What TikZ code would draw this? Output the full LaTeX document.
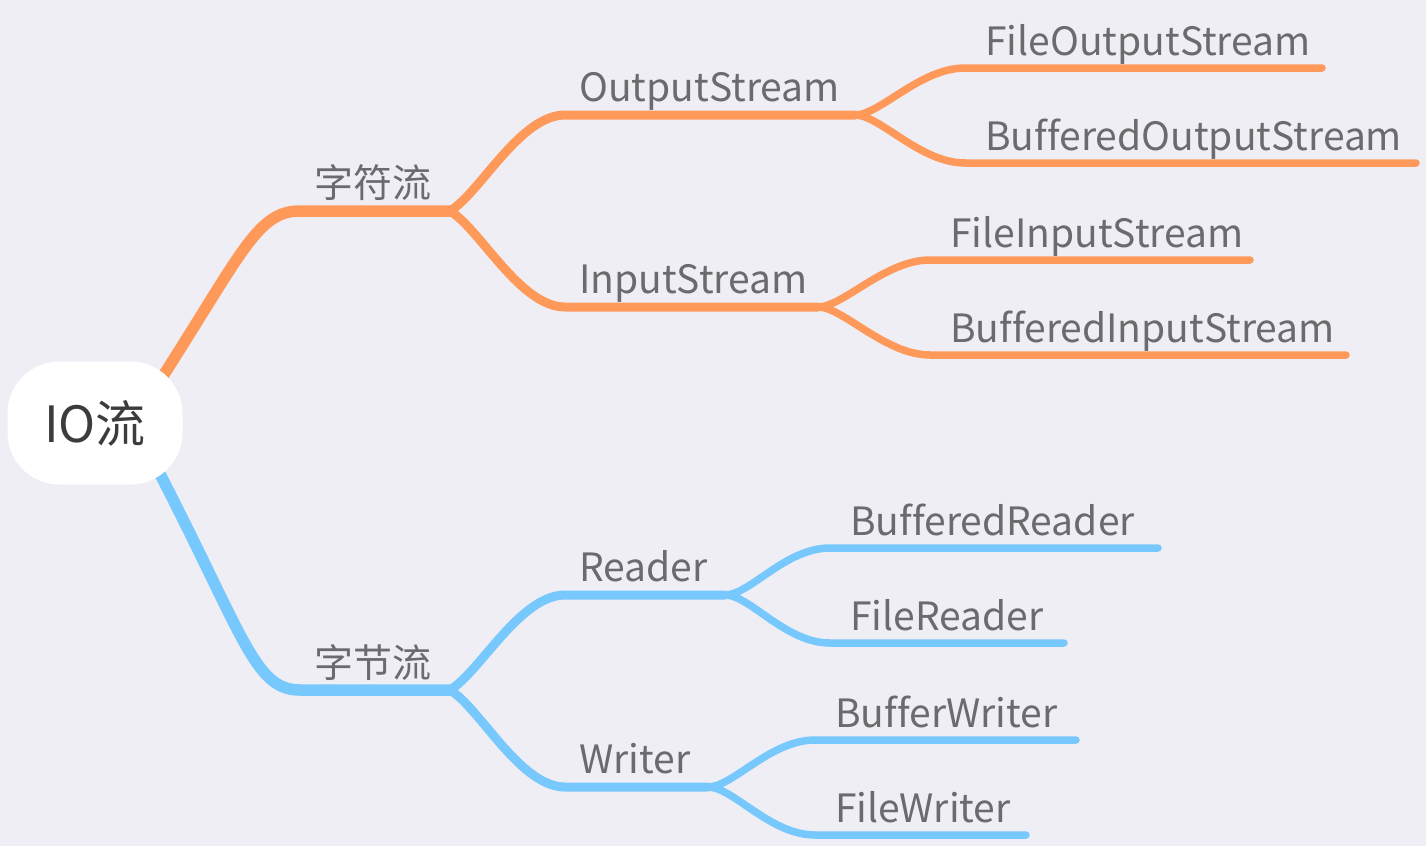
\documentclass[tikz,border=0pt]{standalone}
\usepackage{fontspec}
\setmainfont[Ligatures=NoCommon]{Noto Sans CJK SC}

\definecolor{bgcol}{HTML}{EFEEF5}
\definecolor{ocol}{HTML}{FF995A}
\definecolor{bcol}{HTML}{76C8FD}
\definecolor{txtcol}{HTML}{6B6B6E}
\definecolor{roottxt}{HTML}{3C3C3C}

\tikzset{
  root box/.style={fill=white, rounded corners=52pt, minimum width=175pt,
                   minimum height=123pt, inner sep=0,
                   font=\fontsize{50}{50}\selectfont, text=roottxt},
  main line/.style={line width=11.5pt, line cap=round},
  sub line/.style={line width=9pt, line cap=round},
  leaf line/.style={line width=7.5pt, line cap=round},
  lbl/.style={anchor=base west, inner sep=0,
              font=\fontsize{39}{39}\selectfont, text=txtcol},
}

\begin{document}
\begin{tikzpicture}[x=1pt, y=-1pt]
  % 1 unit = 1 px of the 1426 x 846 sketch, y grows downwards
  \fill[bgcol] (0,0) rectangle (1426,846);
  \useasboundingbox (0,0) rectangle (1426,846);

  % ---- fork points ----
  % main branches: start inside root, bend at x=300, fork at x=450
  \coordinate (o0) at (163,376);  \coordinate (o1) at (300,211);  \coordinate (o2) at (450,211);
  \coordinate (u0) at (160,474);  \coordinate (u1) at (300,690);  \coordinate (u2) at (450,690);
  % second level: line from x=565, fork at its right end
  \coordinate (a1) at (565,115);  \coordinate (a2) at (855,115);
  \coordinate (b1) at (565,307);  \coordinate (b2) at (818,307);
  \coordinate (c1) at (565,595);  \coordinate (c2) at (725,595);
  \coordinate (d1) at (565,787);  \coordinate (d2) at (708,787);

  % ---- main branches (under the root box) ----
  \draw[main line, ocol] (o0) .. controls +(80,-125) and +(-42,0) .. (o1) -- (o2);
  \draw[main line, bcol] (u0) .. controls +(85,165) and +(-45,0) .. (u1) -- (u2);

  % ---- root ----
  \node[root box] (root) at (95,423) {IO流};

  % ---- second level ----
  \draw[sub line, ocol] (o2) .. controls +(30,-18) and +(-45,0) .. (a1) -- (a2);
  \draw[sub line, ocol] (o2) .. controls +(30,18) and +(-45,0) .. (b1) -- (b2);
  \draw[sub line, bcol] (u2) .. controls +(30,-18) and +(-45,0) .. (c1) -- (c2);
  \draw[sub line, bcol] (u2) .. controls +(30,18) and +(-45,0) .. (d1) -- (d2);

  % ---- leaves: fork point / start x / start y / end x / name / text ----
  \foreach \f/\sx/\sy/\ex/\nm/\txt/\col in {
      a2/965/68/1322/fos/FileOutputStream/ocol,
      a2/965/163/1416/bos/BufferedOutputStream/ocol,
      b2/930/260/1250/fis/FileInputStream/ocol,
      b2/930/355/1346/bis/BufferedInputStream/ocol,
      c2/830/548/1158/brd/BufferedReader/bcol,
      c2/830/643/1064/frd/FileReader/bcol,
      d2/815/740/1076/bwr/BufferWriter/bcol,
      d2/815/835/1026/fwr/FileWriter/bcol} {
    \coordinate (\nm-s) at (\sx,\sy);
    \coordinate (\nm-e) at (\ex,\sy);
    \draw[leaf line, \col] (\f) .. controls +(25,0) and +(-45,0) .. (\nm-s) -- (\nm-e);
    \node[lbl] (\nm) at (\sx+20,\sy-13) {\txt};
  }

  % ---- branch labels ----
  \node[lbl] (zfl) at (314,197) {字符流};
  \node[lbl] (zjl) at (314,677) {字节流};
  \node[lbl] (out) at (579,101) {OutputStream};
  \node[lbl] (inp) at (579,293) {InputStream};
  \node[lbl] (rdr) at (579,581) {Reader};
  \node[lbl] (wrt) at (579,773) {Writer};
\end{tikzpicture}
\end{document}
